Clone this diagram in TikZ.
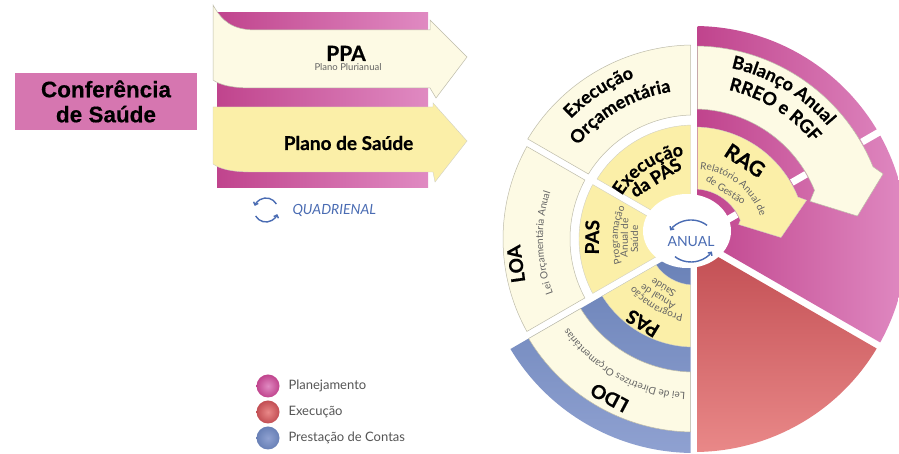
\documentclass[tikz,border=0pt]{standalone}
\usepackage{fontspec}
\setmainfont{Lato}
\newfontfamily\heavyfont{Lato}[FakeBold=0.6]
\newfontfamily\arialfont{Liberation Sans}[FakeBold=0.4]
\usetikzlibrary{decorations.text,arrows.meta}
\definecolor{cream}{HTML}{FDFAE4}
\definecolor{yin}{HTML}{FBEFA8}
\definecolor{edge}{HTML}{BEBCAA}
\definecolor{pinkL}{HTML}{C0448D}
\definecolor{pinkR}{HTML}{E08AC2}
\definecolor{redT}{HTML}{C24E53}
\definecolor{redB}{HTML}{E98888}
\definecolor{blueT}{HTML}{6880B6}
\definecolor{blueB}{HTML}{8FA1D1}
\definecolor{txtgray}{HTML}{646464}
\definecolor{legtxt}{HTML}{555555}
\definecolor{icon}{HTML}{4A6CB3}
\definecolor{confpink}{HTML}{D676B0}
\newcommand\wbig{\heavyfont\bfseries\fontsize{18}{20}\selectfont}
\newcommand\wpas{\heavyfont\bfseries\fontsize{19}{21}\selectfont}
\newcommand\wrag{\heavyfont\bfseries\fontsize{21}{23}\selectfont}
\newcommand\wsmall{\color{txtgray}\fontsize{10}{12}\selectfont}
\newcommand\gsec[5]{%
  \pgfmathsetmacro\gsAa{#2+asin(3.5/#4)}%
  \pgfmathsetmacro\gsAb{#3-asin(3.5/#4)}%
  \pgfmathsetmacro\gsBa{#2+asin(3.5/#5)}%
  \pgfmathsetmacro\gsBb{#3-asin(3.5/#5)}%
  \path[#1] (\gsAa:#4pt) arc[start angle=\gsAa,end angle=\gsAb,radius=#4pt]
    -- (\gsBb:#5pt) arc[start angle=\gsBb,end angle=\gsBa,radius=#5pt] -- cycle;}
\newcommand\arctext[4]{%
  \pgfmathsetmacro\atA{#2+70}%
  \pgfmathsetmacro\atB{#2-70}%
  \path[decorate,decoration={text along path,text align=center,text={|#3|#4}}]
    (\atA:#1pt) arc[start angle=\atA,end angle=\atB,radius=#1pt];}
\newcommand\rtext[5]{%
  \node[rotate={#2-90},anchor=base,inner sep=0pt,font=#4] (#1) at (#2:#3pt) {#5};}
\begin{document}
\begin{tikzpicture}[x=1pt,y=1pt,
  band/.style={left color=pinkL,right color=pinkR},
  creamfill/.style={fill=cream,draw=edge,line width=0.5pt},
  yinfill/.style={fill=yin,draw=edge!70,line width=0.4pt},
  gapline/.style={white,line width=7pt},
  cyc/.style={icon,line width=1.4pt,-{Straight Barb[length=2.5pt,width=5pt]}},
  legdot/.style={circle,inner sep=0pt,minimum size=23pt},
  legtext/.style={anchor=west,font=\fontsize{13}{15}\selectfont,text=legtxt}]
\useasboundingbox (0,0) rectangle (899,454);
\clip (0,0) rectangle (899,454);
\fill[white] (0,0) rectangle (899,454);

% ---------- left: Conferencia ----------
\node[fill=confpink,minimum width=182pt,minimum height=57pt,inner sep=0pt,align=center,
  font=\arialfont\bfseries\fontsize{22.5}{25}\selectfont] (conf) at (106,352.5) {Conferência\\de Saúde};

% ---------- arrows PPA / Plano de Saude ----------
\shade[band] (217,424) rectangle (428,441);
\shade[band] (217,346) rectangle (428,372);
\shade[band] (217,266) rectangle (428,290);
\path[creamfill] (213,374) -- (213,449) .. controls (222,433) and (232,424) .. (256,424)
  -- (430,424) -- (430,434) -- (467,397) -- (436,356) -- (430,366) -- (252,366)
  .. controls (232,366) and (220,369) .. (213,374) -- cycle;
\path[yinfill] (213,290) -- (213,347) -- (433,347) -- (433,351) -- (467,313)
  -- (435,272) -- (433,282) -- (252,282) .. controls (232,282) and (220,285) .. (213,290) -- cycle;
\node[font=\heavyfont\bfseries\fontsize{21}{23}\selectfont,anchor=base] (ppa) at (346,393) {PPA};
\node[font=\fontsize{9.5}{11}\selectfont,text=txtgray,anchor=base] (ppasub) at (348,383) {Plano Plurianual};
\node[font=\heavyfont\bfseries\fontsize{19}{21}\selectfont] (ps) at (348.5,311) {Plano de Saúde};

% quadrienal
\coordinate (q) at (266,244);
\draw[cyc] (q) ++(30:12pt) arc[start angle=30,end angle=160,radius=12pt];
\draw[cyc] (q) ++(210:12pt) arc[start angle=210,end angle=340,radius=12pt];
\node[anchor=west,font=\itshape\fontsize{14}{16}\selectfont,text=icon] (quad) at (289,244) {QUADRIENAL};

% legend
\node[legdot,inner color=pinkR,outer color=pinkL] (dot1) at (268,68) {};
\node[legdot,inner color=redB,outer color=redT] (dot2) at (268,42) {};
\node[legdot,inner color=blueB,outer color=blueT] (dot3) at (268,16) {};
\node[legtext] (leg1) at (285,68) {Planejamento};
\node[legtext] (leg2) at (285,42) {Execução};
\node[legtext] (leg3) at (285,16) {Prestação de Contas};

% ---------- wheel ----------
\begin{scope}[shift={(694,215)}]
 \gsec{left color=pinkL,right color=pinkR}{-30}{90}{10}{213}
 \gsec{top color=redT,bottom color=redB}{-90}{-30}{10}{213}
 \gsec{top color=blueT,bottom color=blueB}{210}{270}{10}{214}
 \gsec{creamfill}{90}{150}{124}{194}
 \gsec{creamfill}{150}{210}{124}{191}
 \gsec{creamfill}{210}{270}{133}{193}
 \gsec{yinfill}{90}{150}{10}{114}
 \gsec{yinfill}{150}{210}{10}{115}
 \gsec{yinfill}{210}{270}{46}{108}
 % Balanco arrow
 \path[creamfill] (88.96:193pt) arc[start angle=88.96,end angle=22,radius=193pt]
   -- (19:200pt) -- (8:165pt) -- (18:122pt) -- (22:130pt)
   arc[start angle=22,end angle=88.46,radius=130pt] -- cycle;
 % RAG arrow
 \path[yinfill] (88.21:112pt) arc[start angle=88.21,end angle=22,radius=112pt]
   -- (19:119pt) -- (1:87pt) -- (18:47pt) -- (22:50pt)
   arc[start angle=22,end angle=85.99,radius=50pt] -- cycle;
 % notches
 \draw[gapline] (30:194pt) -- (30:217pt);
 \draw[gapline] (30:113pt) -- (30:129.3pt);
 \draw[gapline] (30:10pt) -- (30:49.3pt);
 % hub
 \fill[white] (-7,8) ellipse[x radius=44pt,y radius=37pt];
 \coordinate (hubc) at (-3,-2);
 \draw[cyc] (hubc) ++(48:24pt and 21pt) arc[start angle=48,end angle=150,x radius=24pt,y radius=21pt];
 \draw[cyc] (hubc) ++(228:24pt and 21pt) arc[start angle=228,end angle=330,x radius=24pt,y radius=21pt];
 \node[font=\fontsize{14}{16}\selectfont,text=icon] (anual) at (-3,-3) {ANUAL};
 % texts
 \arctext{172}{123}{\wbig}{Execução}
 \arctext{149}{120}{\wbig}{Orçamentária}
 \arctext{175}{59}{\wbig}{Balanço Anual}
 \arctext{153}{58}{\wbig}{RREO e RGF}
 \arctext{84}{123}{\wbig}{Execução}
 \rtext{dapas}{122}{66}{\wbig}{da PAS}
 \rtext{rag}{57}{86}{\wrag}{RAG}
 \arctext{70}{52}{\wsmall}{Relatório Anual de}
 \rtext{gestao}{57}{55}{\wsmall}{de Gestão}
 \rtext{pasl}{179}{95}{\wpas}{PAS}
 \arctext{76}{177}{\wsmall}{Programação}
 \rtext{anuall}{179}{66}{\wsmall}{Anual de}
 \rtext{saudel}{180}{56}{\wsmall}{Saúde}
 \rtext{pasb}{238.7}{92}{\wpas}{PAS}
 \arctext{76}{240}{\wsmall}{Programação}
 \rtext{anualb}{238}{65}{\wsmall}{Anual de}
 \rtext{saudeb}{238}{54}{\wsmall}{Saúde}
 \rtext{loa}{188}{173}{\wpas}{LOA}
 \arctext{151}{181.5}{\wsmall}{Lei Orçamentária Anual}
 \rtext{ldo}{242}{173}{\wpas}{LDO}
 \arctext{154}{241}{\wsmall}{Lei de Diretrizes Orçamentárias}
\end{scope}
\end{tikzpicture}
\end{document}
